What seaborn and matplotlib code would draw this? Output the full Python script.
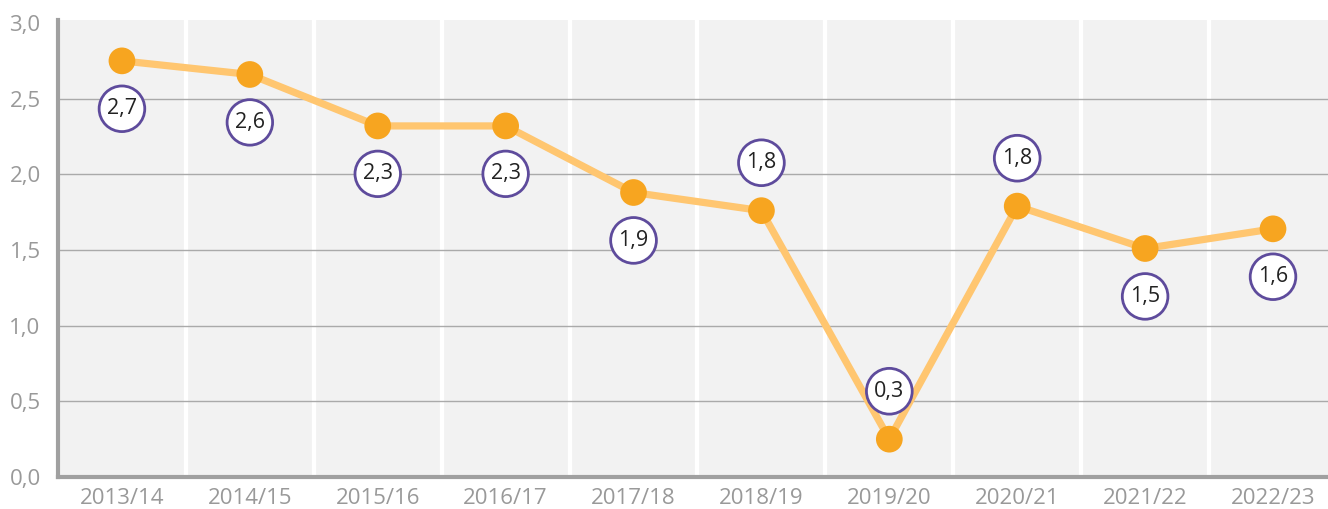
import pandas as pd
import matplotlib.pyplot as plt
import seaborn as sns
from matplotlib.ticker import MultipleLocator, FixedLocator

seasons = ['2013/14', '2014/15', '2015/16', '2016/17', '2017/18',
           '2018/19', '2019/20', '2020/21', '2021/22', '2022/23']
values = [2.75, 2.66, 2.32, 2.32, 1.88, 1.76, 0.25, 1.79, 1.51, 1.64]
labels = ['2,7', '2,6', '2,3', '2,3', '1,9', '1,8', '0,3', '1,8', '1,5', '1,6']
# where the bubble sits relative to the point
label_side = ['below', 'below', 'below', 'below', 'below',
              'above', 'above', 'above', 'below', 'below']

df = pd.DataFrame({'season': seasons, 'value': values})
df['x'] = range(len(df))

sns.set_style('white')
plt.rcParams['font.family'] = ['Open Sans', 'DejaVu Sans']

fig = plt.figure(figsize=(13.28, 5.09), dpi=100)
ax = fig.add_axes([58 / 1328, 32 / 509, 1 - 58 / 1328, 457 / 509])
ax.set_facecolor('#f2f2f2')

sns.lineplot(data=df, x='x', y='value', color='#ffc670', linewidth=5.2, ax=ax, zorder=3)
sns.scatterplot(data=df, x='x', y='value', color='#f7a520', s=370, edgecolor='none', ax=ax, zorder=4)

for x, y, lab, side in zip(df['x'], df['value'], labels, label_side):
    dy = -34.5 if side == 'below' else 34.5
    ax.annotate(lab, (x, y), xytext=(0, dy), textcoords='offset points',
                ha='center', va='center', fontsize=15.5, color='#222222',
                bbox=dict(boxstyle='circle,pad=0.36', fc='white', ec='#5e4b9c', lw=2),
                zorder=5)

ax.set_xlim(-0.5, 9.43)
ax.set_ylim(0, 3.02)
ax.yaxis.set_major_locator(MultipleLocator(0.5))
ax.set_yticks([0, 0.5, 1.0, 1.5, 2.0, 2.5, 3.0])
ax.set_yticklabels([f'{v:.1f}'.replace('.', ',') for v in ax.get_yticks()])

ax.set_xticks(df['x'])
ax.set_xticklabels(seasons)
ax.xaxis.set_minor_locator(FixedLocator([i - 0.5 for i in range(len(seasons))]))

ax.grid(axis='y', color='#aaaaaa', linewidth=1, zorder=1)
ax.grid(axis='x', which='minor', color='white', linewidth=3, zorder=1)
ax.set_axisbelow(True)
ax.get_ygridlines()[-1].set_visible(False)

for s in ['top', 'right']:
    ax.spines[s].set_visible(False)
for s in ['left', 'bottom']:
    ax.spines[s].set_color('#a0a0a0')
    ax.spines[s].set_linewidth(3)

ax.tick_params(axis='x', which='major', length=0, pad=8, labelsize=16, labelcolor='#999999')
ax.tick_params(axis='x', which='minor', length=9, width=3, color='#a0a0a0', direction='out')
ax.tick_params(axis='y', length=0, pad=12.5, labelsize=16, labelcolor='#999999')
ax.set_xlabel('')
ax.set_ylabel('')

fig.savefig('out.png', dpi=100)
